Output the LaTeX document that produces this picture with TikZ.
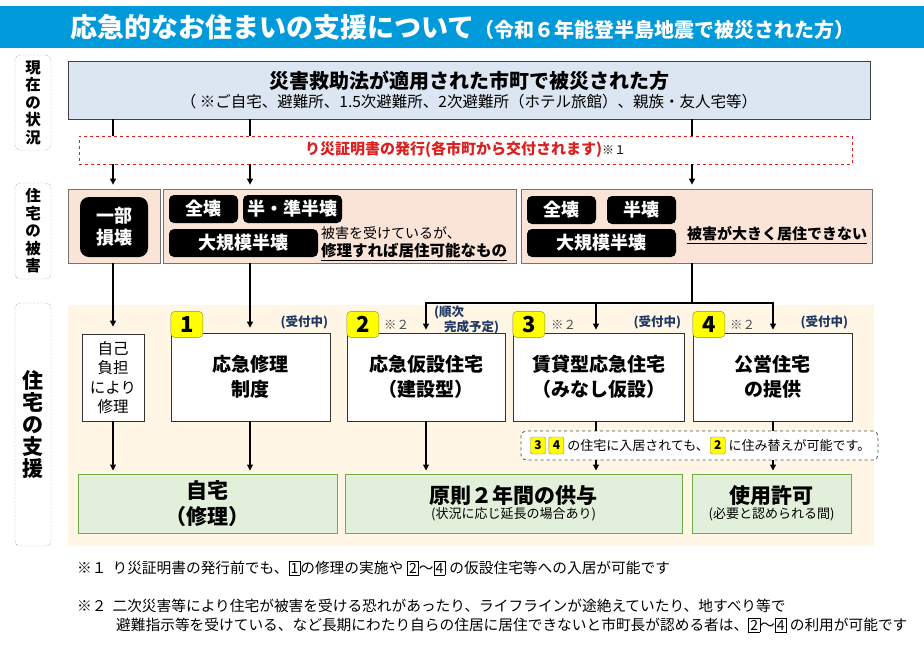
\documentclass[tikz,border=0pt]{standalone}
\usepackage{fontspec}
\setmainfont{Noto Sans CJK JP}
\usepackage{tikz}
\usetikzlibrary{positioning}
\usetikzlibrary{arrows.meta}

\definecolor{titleblue}{RGB}{0,153,218}
\definecolor{topblue}{RGB}{220,230,242}
\definecolor{certred}{RGB}{218,32,32}
\definecolor{dmgpink}{RGB}{250,228,216}
\definecolor{supcream}{RGB}{255,246,229}
\definecolor{badgeyellow}{RGB}{255,255,0}
\definecolor{badgeline}{RGB}{140,140,60}
\definecolor{navytext}{RGB}{31,56,100}
\definecolor{resgreen}{RGB}{226,239,218}
\definecolor{resline}{RGB}{112,173,71}
\definecolor{noteline}{RGB}{68,84,106}

\newcommand{\fsz}[2]{\fontsize{#1}{#2}\selectfont}
\newcommand{\numbox}[1]{{\setlength{\fboxsep}{1.5pt}\setlength{\fboxrule}{0.5pt}\fbox{\fsz{14}{15}#1}}}

\begin{document}
\begin{tikzpicture}[x=1pt,y=-1pt,
  arr/.style={-{Triangle[length=6pt,width=6pt]},line width=1.1pt},
  link/.style={line width=1.1pt},
  sidelabel/.style={draw=black!60,densely dotted,rounded corners=5pt,minimum width=36pt,align=center,inner sep=0pt},
  dmgbox/.style={draw=black!55,fill=dmgpink,line width=0.8pt,minimum height=74pt,inner sep=0pt},
  dmgtag/.style={fill=black,text=white,rounded corners=5pt,minimum height=28pt,inner sep=0pt,font=\fsz{18}{22}\bfseries},
  supbox/.style={draw=black!80,fill=white,line width=0.8pt,minimum height=88pt,align=center,inner sep=0pt,font=\fsz{19}{25}\bfseries},
  badge/.style={draw=badgeline,fill=badgeyellow,rounded corners=4pt,minimum width=32pt,minimum height=26pt,inner sep=0pt,font=\fsz{22}{24}\bfseries},
  minibadge/.style={draw=badgeline,fill=badgeyellow,rounded corners=2pt,minimum width=15pt,minimum height=17pt,inner sep=0pt,font=\fsz{12}{14}\bfseries},
  openlabel/.style={text=navytext,font=\fsz{12.5}{14}\bfseries,inner sep=0pt},
  refmark/.style={text=black!70,font=\fsz{12.5}{14},inner sep=0pt},
  resbox/.style={draw=resline,fill=resgreen,line width=1pt,minimum height=59pt,align=center,inner sep=0pt},
  fnote/.style={anchor=west,inner sep=0pt,font=\fsz{14.7}{17}}
]
  \useasboundingbox (0,0) rectangle (924,653);

  % title
  \node [fill=titleblue,minimum width=924pt,minimum height=42pt,inner sep=0pt,anchor=north west] (bar) at (0,6) {};
  \node [anchor=west,text=white,font=\bfseries,inner sep=0pt] (title) at (70,27) {\fsz{27}{30}応急的なお住まいの支援について\fsz{20}{24}（令和６年能登半島地震で被災された方）};

  % row labels
  \node [sidelabel,minimum height=95pt,font=\fsz{15.5}{17.5}\bfseries] (lblnow) at (33,102.5) {現\\在\\の\\状\\況};
  \node [sidelabel,minimum height=96pt,font=\fsz{15.5}{17.5}\bfseries] (lbldmg) at (33,231) {住\\宅\\の\\被\\害};
  \node [sidelabel,minimum height=243pt,font=\fsz{21}{22}\bfseries] (lblsup) at (33,424.5) {住\\宅\\の\\支\\援};

  % columns
  \coordinate (c1) at (113,0);
  \coordinate (c2) at (250,0);
  \coordinate (c3) at (692,0);
  \coordinate (c4) at (426,0);
  \coordinate (c5) at (596,0);
  \coordinate (c6) at (773,0);
  \coordinate (split) at (692,303);

  % current situation
  \node [draw=black!75,fill=topblue,line width=0.8pt,minimum width=802pt,minimum height=58pt,align=center,inner sep=0pt] (top) at (469,90) {\fsz{20}{24}\bfseries 災害救助法が適用された市町で被災された方\\[2pt]\fsz{15.5}{20}\mdseries （ ※ご自宅、避難所、1.5次避難所、2次避難所（ホテル旅館）、親族・友人宅等）};
  \node [draw=certred,dashed,fill=white,line width=0.8pt,minimum width=773pt,minimum height=28pt,inner sep=0pt] (cert) at (465.5,150) {{\color{certred}\fsz{15}{18}\bfseries り災証明書の発行(各市町から交付されます)}\fsz{12}{14}※１};

  % damage
  \node [dmgbox,minimum width=92pt] (dmgA) at (114,226) {};
  \node [dmgbox,minimum width=353pt] (dmgB) at (339.5,226) {};
  \node [dmgbox,minimum width=351pt] (dmgC) at (696.5,226) {};
  \node [dmgtag,minimum width=68pt,minimum height=60pt,rounded corners=9pt,align=center] (partial) at (114,227) {一部\\損壊};
  \node [dmgtag,minimum width=69pt] (totalB) at (203.5,209) {全壊};
  \node [dmgtag,minimum width=99pt] (halfB) at (292.5,209) {半・準半壊};
  \node [dmgtag,minimum width=149pt] (largeB) at (243.5,243) {大規模半壊};
  \node [anchor=west,inner sep=0pt,font=\fsz{14}{16}] (liveA) at (321,233) {被害を受けているが、};
  \node [anchor=west,inner sep=0pt,font=\fsz{15.5}{18}\bfseries] (liveB) at (321,252) {\underline{修理すれば居住可能なもの}};
  \node [dmgtag,minimum width=69pt] (totalC) at (561.5,210) {全壊};
  \node [dmgtag,minimum width=69pt] (halfC) at (641.5,210) {半壊};
  \node [dmgtag,minimum width=149pt] (largeC) at (601.5,243) {大規模半壊};
  \node [anchor=west,inner sep=0pt,font=\fsz{15}{18}\bfseries] (severe) at (687,235) {\underline{被害が大きく居住できない}};

  \draw [link] (top.south -| c1) -- (cert.north -| c1);
  \draw [link] (top.south -| c2) -- (cert.north -| c2);
  \draw [link] (top.south -| c3) -- (cert.north -| c3);
  \draw [arr,shorten >=4pt] (cert.south -| c1) -- (dmgA.north -| c1);
  \draw [arr,shorten >=4pt] (cert.south -| c2) -- (dmgB.north -| c2);
  \draw [arr,shorten >=4pt] (cert.south -| c3) -- (dmgC.north -| c3);

  % support
  \node [fill=supcream,minimum width=806pt,minimum height=241pt,inner sep=0pt,anchor=north west] (supbg) at (68,305) {};
  \node [supbox,minimum width=62pt,minimum height=87pt,font=\fsz{15.5}{19.5}] (self) at (113,377.5) {自己\\負担\\により\\修理};
  \node [supbox,minimum width=159pt] (sup1) at (250.5,377) {応急修理\\制度};
  \node [supbox,minimum width=158pt] (sup2) at (426,377) {応急仮設住宅\\（建設型）};
  \node [supbox,minimum width=171pt] (sup3) at (598.5,377) {賃貸型応急住宅\\（みなし仮設）};
  \node [supbox,minimum width=159pt] (sup4) at (772.5,377) {公営住宅\\の提供};

  \node [badge,anchor=south west] (b1) at ([yshift=-5pt]sup1.north west) {1};
  \node [badge,anchor=south west] (b2) at ([yshift=-5pt]sup2.north west) {2};
  \node [badge,anchor=south west] (b3) at ([yshift=-5pt]sup3.north west) {3};
  \node [badge,anchor=south west] (b4) at ([yshift=-5pt]sup4.north west) {4};
  \node [refmark,right=5pt of b2] (r2) {※２};
  \node [refmark,right=6pt of b3] (r3) {※２};
  \node [refmark,right=5pt of b4] (r4) {※２};
  \node [openlabel,anchor=south east] (open1) at ([xshift=-2pt,yshift=3pt]sup1.north east) {(受付中)};
  \node [openlabel,anchor=south east] (open3) at ([xshift=-3pt,yshift=3pt]sup3.north east) {(受付中)};
  \node [openlabel,anchor=south east] (open4) at ([xshift=-4pt,yshift=3pt]sup4.north east) {(受付中)};
  \node [openlabel,align=left,anchor=north west,font=\fsz{12.5}{14.5}\bfseries] (order) at (434,306) {(順次\\\hspace{0.8em}完成予定)};

  \draw [arr,shorten >=7pt] (dmgA.south -| c1) -- (self.north -| c1);
  \draw [arr,shorten >=5pt] (dmgB.south -| c2) -- (sup1.north -| c2);
  \draw [link] (dmgC.south -| c3) -- (split);
  \draw [arr,shorten >=3pt] (split) -- (split -| c4) -- (sup2.north -| c4);
  \draw [arr,shorten >=3pt] (split) -- (split -| c6) -- (sup4.north -| c6);
  \draw [arr,shorten >=3pt] (split -| c5) -- (sup3.north -| c5);

  % move note
  \node [draw=noteline,dashed,fill=white,rounded corners=5pt,line width=0.8pt,minimum width=357pt,minimum height=29pt,inner sep=0pt] (note) at (699.5,445.5) {};
  \node [minibadge] (nb3) at (538,445.5) {3};
  \node [minibadge,right=3pt of nb3] (nb4) {4};
  \node [right=3pt of nb4,inner sep=0pt,font=\fsz{13}{15}] (nt1) {の住宅に入居されても、};
  \node [minibadge,right=1pt of nt1] (nb2) {2};
  \node [right=3pt of nb2,inner sep=0pt,font=\fsz{13}{15}] (nt2) {に住み替えが可能です。};

  % results
  \node [resbox,minimum width=259pt,font=\fsz{21}{26}\bfseries] (home) at (207.5,503.5) {自宅\\（修理）};
  \node [resbox,minimum width=337pt] (lend) at (513.5,503.5) {\fsz{21}{24}\bfseries 原則２年間の供与\\[1pt]\fsz{13}{19}\mdseries (状況に応じ延長の場合あり)};
  \node [resbox,minimum width=159pt] (permit) at (771.5,503.5) {\fsz{21}{24}\bfseries 使用許可\\[1pt]\fsz{13}{19}\mdseries (必要と認められる間)};

  \draw [arr,shorten >=3pt] (self.south -| c1) -- (home.north -| c1);
  \draw [arr,shorten >=3pt] (sup1.south -| c2) -- (home.north -| c2);
  \draw [arr,shorten >=3pt] (sup2.south -| c4) -- (lend.north -| c4);
  \draw [link] (sup3.south -| c5) -- (note.north -| c5);
  \draw [arr,shorten >=3pt] (note.south -| c5) -- (lend.north -| c5);
  \draw [link] (sup4.south -| c6) -- (note.north -| c6);
  \draw [arr,shorten >=3pt] (note.south -| c6) -- (permit.north -| c6);

  % footnotes
  \node [fnote] (fn1) at (77,568) {※１\hspace{6pt}り災証明書の発行前でも、\numbox{1}の修理の実施や\hspace{4pt}\numbox{2}～\numbox{4}\hspace{4pt}の仮設住宅等への入居が可能です};
  \node [fnote] (fn2) at (77,606) {※２\hspace{6pt}二次災害等により住宅が被害を受ける恐れがあったり、ライフラインが途絶えていたり、地すべり等で};
  \node [fnote] (fn3) at (116,625) {避難指示等を受けている、など長期にわたり自らの住居に居住できないと市町長が認める者は、\numbox{2}～\numbox{4} の利用が可能です};
\end{tikzpicture}
\end{document}
